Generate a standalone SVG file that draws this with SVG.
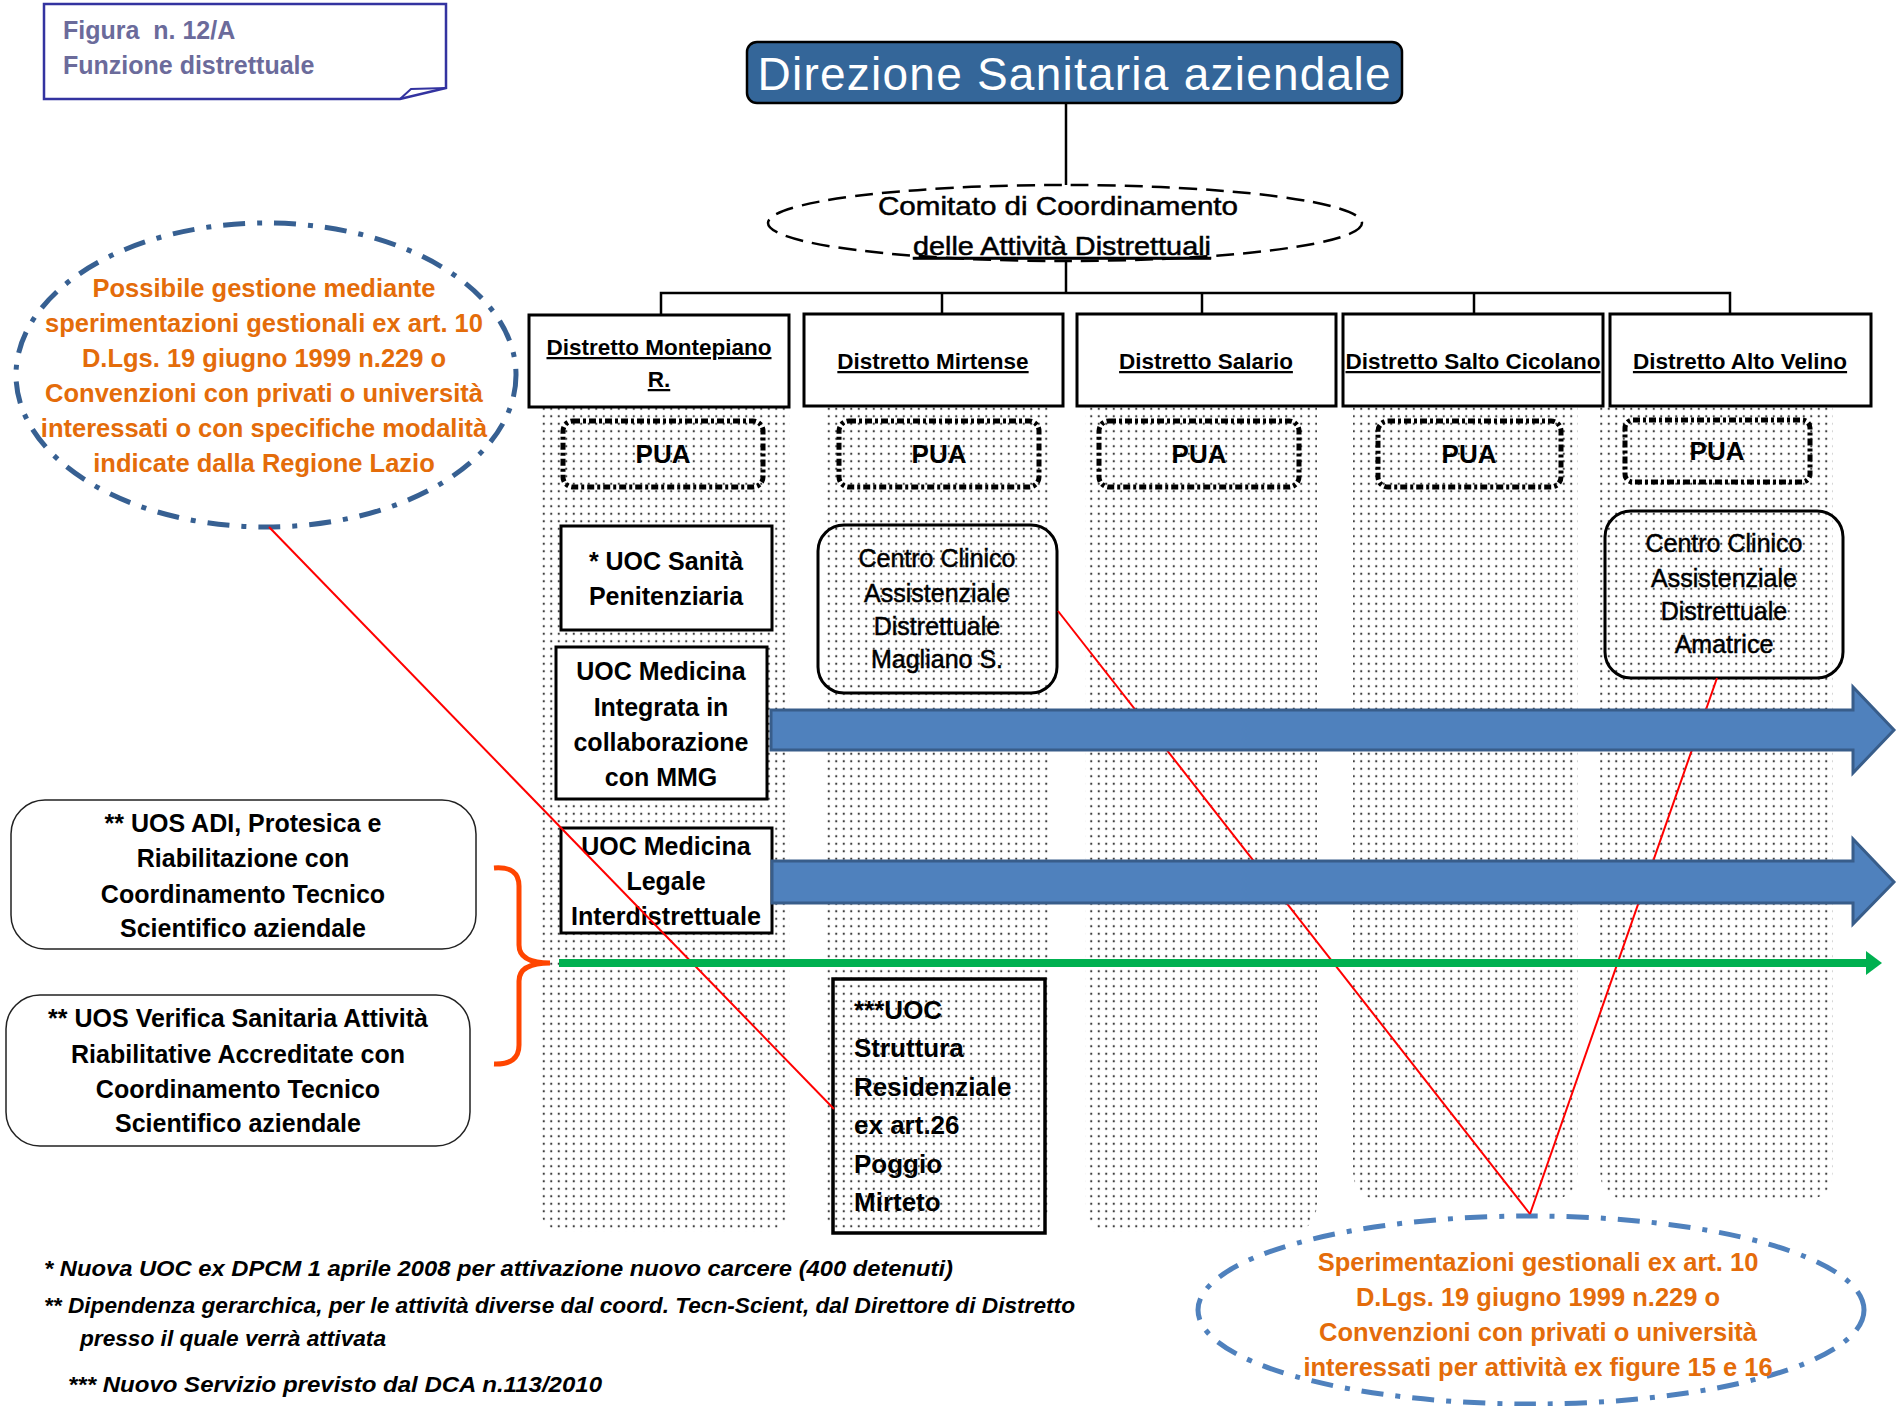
<svg xmlns="http://www.w3.org/2000/svg" width="1898" height="1406" viewBox="0 0 1898 1406">
<defs>
<pattern id="dots" width="7.5" height="7.5" patternUnits="userSpaceOnUse">
<rect width="7.5" height="7.5" fill="#fff"/>
<circle cx="3.75" cy="3.75" r="1.1" fill="#3a3a3a"/>
</pattern>
<style>
text{font-family:"Liberation Sans",Arial,sans-serif;}
.dist{fill:#fff;stroke:#000;stroke-width:3;}
.dt{font-size:22.5px;font-weight:bold;text-decoration:underline;text-anchor:middle;fill:#000;}
.col{fill:url(#dots);stroke:none;}
.pua{fill:none;stroke:#000;stroke-width:5;stroke-dasharray:7 3 3 3;}
.puat{font-size:26px;font-weight:bold;text-anchor:middle;fill:#000;}
.box{fill:#fff;stroke:#000;stroke-width:3;}
.boxt{fill:none;stroke:#000;stroke-width:3;}
.bt{font-size:25px;font-weight:bold;text-anchor:middle;fill:#000;}
.ct{font-size:25px;text-anchor:middle;fill:#000;stroke:#000;stroke-width:0.5;}
.lb{fill:#fff;stroke:#222;stroke-width:1.5;}
.ot{font-size:25.5px;font-weight:bold;text-anchor:middle;fill:#E46C0A;}
.red{stroke:#FF0000;stroke-width:2;fill:none;}
.blk{stroke:#000;stroke-width:2.5;fill:none;}
.barrow{fill:#4F81BD;stroke:#385D8A;stroke-width:3;}
.fn{font-size:22px;font-weight:bold;font-style:italic;fill:#000;}
.rt{font-size:26px;font-weight:bold;fill:#000;}
</style>
</defs>
<rect width="1898" height="1406" fill="#fff"/>

<g id="columns">
<path class="col" d="M539,407 H790 V1202 Q790,1232 760,1232 H569 Q539,1232 539,1202 Z"/>
<path class="col" d="M823,407 H1049 V1202 Q1049,1232 1019,1232 H853 Q823,1232 823,1202 Z"/>
<path class="col" d="M1085,407 H1317 V1202 Q1317,1232 1287,1232 H1115 Q1085,1232 1085,1202 Z"/>
<path class="col" d="M1353,407 H1578 V1170 Q1578,1200 1548,1200 H1383 Q1353,1200 1353,1170 Z"/>
<path class="col" d="M1600,407 H1833 V1170 Q1833,1200 1803,1200 H1630 Q1600,1200 1600,1170 Z"/>
</g>

<g id="connectors">
<line class="blk" x1="1066" y1="103" x2="1066" y2="185"/>
<line class="blk" x1="1066" y1="261" x2="1066" y2="293"/>
<polyline class="blk" points="661,314 661,293 1730,293 1730,314"/>
<line class="blk" x1="942" y1="293" x2="942" y2="314"/>
<line class="blk" x1="1202" y1="293" x2="1202" y2="314"/>
<line class="blk" x1="1474" y1="293" x2="1474" y2="314"/>
</g>

<g id="figure-label">
<path d="M44,4 H446 V88 L400,99 H44 Z" fill="#fff" stroke="#3333A0" stroke-width="2.5"/>
<path d="M400,99 L411,89 L446,88" fill="none" stroke="#3333A0" stroke-width="2"/>
<text x="63" y="39" xml:space="preserve" style="font-size:25px;font-weight:bold;fill:#6B6B9B;">Figura  n. 12/A</text>
<text x="63" y="74" style="font-size:25px;font-weight:bold;fill:#6B6B9B;">Funzione distrettuale</text>
</g>

<g id="direzione">
<rect x="747" y="42" width="655" height="61" rx="10" fill="#346699" stroke="#000" stroke-width="2.5"/>
<text x="1074" y="90" textLength="633" lengthAdjust="spacing" style="font-size:46px;fill:#fff;text-anchor:middle;">Direzione Sanitaria aziendale</text>
</g>

<g id="comitato">
<ellipse cx="1065" cy="223" rx="297" ry="38" fill="#fff" stroke="#000" stroke-width="2.5" stroke-dasharray="18 9"/>
<text x="1058" y="215" textLength="360" lengthAdjust="spacingAndGlyphs" style="font-size:26px;text-anchor:middle;fill:#000;stroke:#000;stroke-width:0.5;">Comitato di Coordinamento</text>
<text x="1062" y="255" textLength="298" lengthAdjust="spacingAndGlyphs" style="font-size:26px;text-anchor:middle;fill:#000;stroke:#000;stroke-width:0.5;text-decoration:underline;">delle Attività Distrettuali</text>
</g>

<g id="distretto-montepiano">
<rect class="dist" x="529" y="315" width="260" height="92"/>
<text class="dt" x="659" y="355">Distretto Montepiano</text>
<text class="dt" x="659" y="387">R.</text>
</g>
<g id="distretto-mirtense">
<rect class="dist" x="804" y="314" width="259" height="92"/>
<text class="dt" x="933" y="369">Distretto Mirtense</text>
</g>
<g id="distretto-salario">
<rect class="dist" x="1077" y="314" width="259" height="92"/>
<text class="dt" x="1206" y="369">Distretto Salario</text>
</g>
<g id="distretto-salto-cicolano">
<rect class="dist" x="1343" y="314" width="260" height="92"/>
<text class="dt" x="1473" y="369">Distretto Salto Cicolano</text>
</g>
<g id="distretto-alto-velino">
<rect class="dist" x="1610" y="314" width="261" height="92"/>
<text class="dt" x="1740" y="369">Distretto Alto Velino</text>
</g>

<g id="pua-1"><rect class="pua" x="563" y="421" width="200" height="66" rx="10"/><text class="puat" x="663" y="463">PUA</text></g>
<g id="pua-2"><rect class="pua" x="839" y="421" width="200" height="66" rx="10"/><text class="puat" x="939" y="463">PUA</text></g>
<g id="pua-3"><rect class="pua" x="1099" y="421" width="200" height="66" rx="10"/><text class="puat" x="1199" y="463">PUA</text></g>
<g id="pua-4"><rect class="pua" x="1378" y="421" width="183" height="66" rx="10"/><text class="puat" x="1469" y="463">PUA</text></g>
<g id="pua-5"><rect class="pua" x="1625" y="420" width="185" height="62" rx="8"/><text class="puat" x="1717" y="460">PUA</text></g>

<g id="uoc-sanita-penitenziaria">
<rect class="box" x="561" y="526" width="211" height="104"/>
<text class="bt" x="666" y="570">* UOC Sanità</text>
<text class="bt" x="666" y="605">Penitenziaria</text>
</g>
<g id="uoc-medicina-integrata">
<rect class="box" x="556" y="647" width="211" height="152"/>
<text class="bt" x="661" y="680">UOC Medicina</text>
<text class="bt" x="661" y="716">Integrata in</text>
<text class="bt" x="661" y="751">collaborazione</text>
<text class="bt" x="661" y="786">con MMG</text>
</g>
<g id="uoc-medicina-legale">
<rect class="box" x="561" y="828" width="211" height="105"/>
<text class="bt" x="666" y="855">UOC Medicina</text>
<text class="bt" x="666" y="890">Legale</text>
<text class="bt" x="666" y="925" textLength="190" lengthAdjust="spacingAndGlyphs">Interdistrettuale</text>
</g>

<g id="centro-magliano">
<rect class="boxt" x="818" y="525" width="239" height="168" rx="26"/>
<text class="ct" x="937" y="567">Centro Clinico</text>
<text class="ct" x="937" y="602">Assistenziale</text>
<text class="ct" x="937" y="635">Distrettuale</text>
<text class="ct" x="937" y="668">Magliano S.</text>
</g>

<g id="uoc-struttura-residenziale">
<rect class="boxt" x="833" y="979" width="212" height="254" style="stroke-width:3.5"/>
<text class="rt" x="854" y="1019">***UOC</text>
<text class="rt" x="854" y="1057">Struttura</text>
<text class="rt" x="854" y="1096">Residenziale</text>
<text class="rt" x="854" y="1134">ex art.26</text>
<text class="rt" x="854" y="1173">Poggio</text>
<text class="rt" x="854" y="1211">Mirteto</text>
</g>

<g id="centro-amatrice">
<rect class="boxt" x="1605" y="511" width="238" height="167" rx="26"/>
<text class="ct" x="1724" y="552">Centro Clinico</text>
<text class="ct" x="1724" y="587">Assistenziale</text>
<text class="ct" x="1724" y="620">Distrettuale</text>
<text class="ct" x="1724" y="653">Amatrice</text>
</g>

<g id="uos-adi">
<rect class="lb" x="11" y="800" width="465" height="149" rx="34"/>
<text class="bt" x="243" y="832">** UOS ADI, Protesica e</text>
<text class="bt" x="243" y="867">Riabilitazione con</text>
<text class="bt" x="243" y="903">Coordinamento Tecnico</text>
<text class="bt" x="243" y="937">Scientifico aziendale</text>
</g>
<g id="uos-verifica">
<rect class="lb" x="6" y="995" width="464" height="151" rx="34"/>
<text class="bt" x="238" y="1027">** UOS Verifica Sanitaria Attività</text>
<text class="bt" x="238" y="1063">Riabilitative Accreditate con</text>
<text class="bt" x="238" y="1098">Coordinamento Tecnico</text>
<text class="bt" x="238" y="1132">Scientifico aziendale</text>
</g>

<g id="ellipse-possibile-gestione">
<ellipse cx="266" cy="375" rx="250" ry="152" fill="none" stroke="#376092" stroke-width="5" stroke-dasharray="22 12 5 12"/>
<text class="ot" x="264" y="297">Possibile gestione mediante</text>
<text class="ot" x="264" y="332">sperimentazioni gestionali ex art. 10</text>
<text class="ot" x="264" y="367">D.Lgs. 19 giugno 1999 n.229 o</text>
<text class="ot" x="264" y="402">Convenzioni con privati o università</text>
<text class="ot" x="264" y="437">interessati o con specifiche modalità</text>
<text class="ot" x="264" y="472">indicate dalla Regione Lazio</text>
</g>

<g id="ellipse-sperimentazioni">
<ellipse cx="1531" cy="1310" rx="333" ry="94" fill="none" stroke="#4F81BD" stroke-width="5" stroke-dasharray="22 12 5 12"/>
<text class="ot" x="1538" y="1271">Sperimentazioni gestionali ex art. 10</text>
<text class="ot" x="1538" y="1306">D.Lgs. 19 giugno 1999 n.229 o</text>
<text class="ot" x="1538" y="1341">Convenzioni con privati o università</text>
<text class="ot" x="1538" y="1376">interessati per attività ex figure 15 e 16</text>
</g>

<g id="links">
<line class="red" x1="269" y1="527" x2="834" y2="1109"/>
<line class="red" x1="1058" y1="611" x2="1530" y2="1214"/>
<line class="red" x1="1717" y1="678" x2="1530" y2="1214"/>
<polygon class="barrow" points="771,710 1853,710 1853,687 1894,730 1853,773 1853,750 771,750"/>
<polygon class="barrow" points="772,861 1853,861 1853,839 1894,882 1853,924 1853,903 772,903"/>
<line x1="559" y1="963" x2="1868" y2="963" stroke="#00B050" stroke-width="8"/>
<polygon points="1866,951 1882,963 1866,975" fill="#00B050"/>
<path d="M494,868 Q519,866 519,886 V945 Q519,963 550,963 Q519,963 519,981 V1045 Q519,1065 494,1064" fill="none" stroke="#FF4500" stroke-width="5"/>
</g>

<g id="footnotes">
<text class="fn" x="44" y="1276" textLength="909" lengthAdjust="spacingAndGlyphs">* Nuova UOC ex DPCM 1 aprile 2008 per attivazione nuovo carcere (400 detenuti)</text>
<text class="fn" x="44" y="1313" textLength="1031" lengthAdjust="spacingAndGlyphs">** Dipendenza gerarchica, per le attività diverse dal coord. Tecn-Scient, dal Direttore di Distretto</text>
<text class="fn" x="80" y="1346" textLength="306" lengthAdjust="spacingAndGlyphs">presso il quale verrà attivata</text>
<text class="fn" x="68" y="1392" textLength="534" lengthAdjust="spacingAndGlyphs">*** Nuovo Servizio previsto dal DCA n.113/2010</text>
</g>
</svg>
